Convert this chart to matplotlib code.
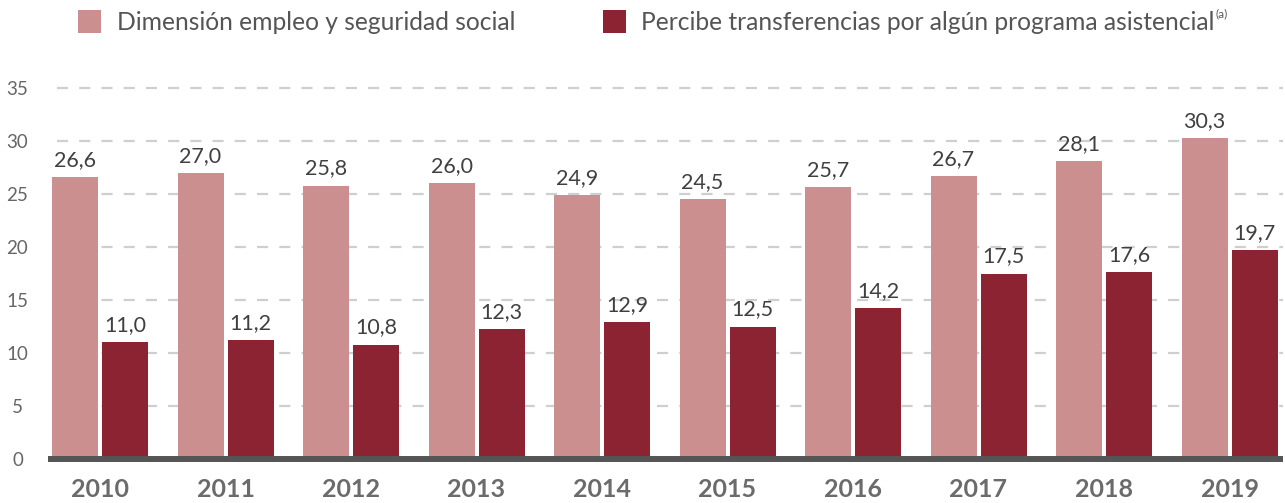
import matplotlib
matplotlib.use("Agg")
import matplotlib.pyplot as plt
from matplotlib.patches import Rectangle
import numpy as np

years = ["2010", "2011", "2012", "2013", "2014", "2015", "2016", "2017", "2018", "2019"]
empleo = [26.6, 27.0, 25.8, 26.0, 24.9, 24.5, 25.7, 26.7, 28.1, 30.3]
transfer = [11.0, 11.2, 10.8, 12.3, 12.9, 12.5, 14.2, 17.5, 17.6, 19.7]
yticks = [0, 5, 10, 15, 20, 25, 30, 35]
legend_labels = ["Dimensión empleo y seguridad social",
                 "Percibe transferencias por algún programa asistencial"]

C_PINK = "#CC8F8F"
C_DARK = "#8B2332"
FONT = "Lato"

W, H = 1285, 503
fig = plt.figure(figsize=(W / 100, H / 100), dpi=100)
ax_left, ax_right = 48, 1283
y0_px, y35_px = 459, 88
ax = fig.add_axes([ax_left / W, (H - y0_px) / H, (ax_right - ax_left) / W, (y0_px - y35_px) / H])

step = 125.5
xl = (ax_left - 100) / step
xr = (ax_right - 100) / step
ax.set_xlim(xl, xr)
ax.set_ylim(0, 35)

x = np.arange(len(years))
bw = 46 / step
off = 25 / step
b1 = ax.bar(x - off, empleo, bw, color=C_PINK, zorder=3)
b2 = ax.bar(x + off, transfer, bw, color=C_DARK, zorder=3)

# gridlines
g_start = (57 - 100) / step
for t in yticks[1:]:
    ax.plot([g_start, xr], [t, t], color="#CFCFCF", lw=1.6, dashes=(5, 5), zorder=1, clip_on=False)
ax.plot([xl, xr], [0, 0], color="#555555", lw=4.3, zorder=4, solid_capstyle="butt", clip_on=False)

for bars, vals in ((b1, empleo), (b2, transfer)):
    for r, v in zip(bars, vals):
        ax.annotate(f"{v:.1f}".replace(".", ","), (r.get_x() + r.get_width() / 2, v),
                    xytext=(0, 5), textcoords="offset points", ha="center", va="bottom",
                    fontsize=15.5, color="#404040", family=FONT, clip_on=False)

for s in ax.spines.values():
    s.set_visible(False)
ax.set_yticks(yticks)
ax.set_yticklabels([str(t) for t in yticks], family=FONT, fontsize=13.5, color="#666666", ha="center")
ax.tick_params(axis="y", length=0, pad=22)
ax.set_xticks(x)
ax.set_xticklabels(years, family=FONT, fontsize=18, fontweight="bold", color="#6B6B6B")
ax.tick_params(axis="x", length=0, pad=14)

# legend
def px2fig(px, py):
    return px / W, (H - py) / H

for (sx, tx, col, lab) in ((78, 117, C_PINK, legend_labels[0]), (603, 641, C_DARK, legend_labels[1])):
    fx, fy = px2fig(sx, 33)
    fig.add_artist(Rectangle((fx, fy), 23 / W, 23 / H, transform=fig.transFigure,
                             facecolor=col, edgecolor="none"))
    tfx, tfy = px2fig(tx, 22)
    t = fig.text(tfx, tfy, lab, family=FONT, fontsize=17.7, color="#555555", va="center", ha="left")

fig.canvas.draw()
bb = t.get_window_extent()
fig.text((bb.x1 + 1) / W, (H - 14) / H, "(a)", family=FONT, fontsize=8.5, color="#555555",
         va="center", ha="left")

fig.savefig("out.png", dpi=100)
